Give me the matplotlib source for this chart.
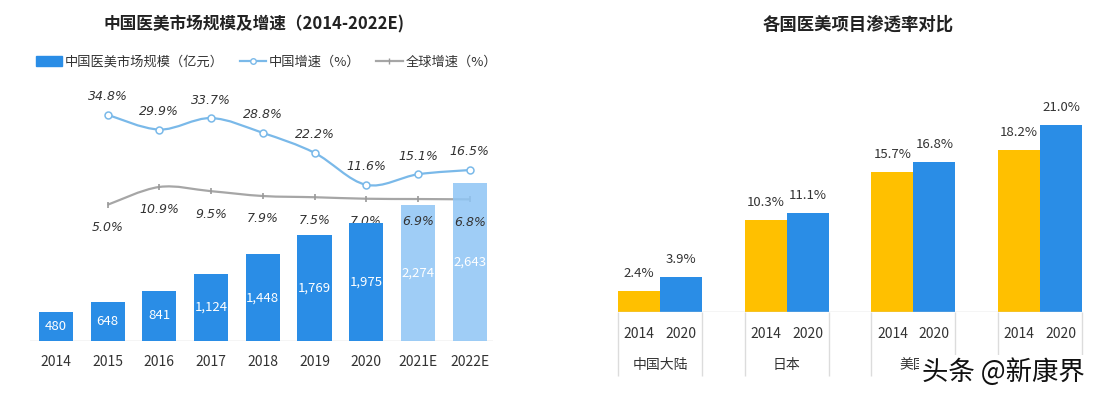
import numpy as np
import matplotlib
matplotlib.use('Agg')
from matplotlib import pyplot as plt
from matplotlib.path import Path
from matplotlib.patches import PathPatch, Patch
from matplotlib.lines import Line2D

plt.rcParams['font.family'] = ['Noto Sans CJK SC', 'DejaVu Sans']

# Left chart data
years = ['2014', '2015', '2016', '2017', '2018', '2019', '2020', '2021E', '2022E']
market_size = [480, 648, 841, 1124, 1448, 1769, 1975, 2274, 2643]
size_labels = ['480', '648', '841', '1,124', '1,448', '1,769', '1,975', '2,274', '2,643']
cn_growth = [34.8, 29.9, 33.7, 28.8, 22.2, 11.6, 15.1, 16.5]
global_growth = [5.0, 10.9, 9.5, 7.9, 7.5, 7.0, 6.9, 6.8]
n_actual = 7  # 2014-2020 are actual, the rest estimates

# Right chart data
countries = ['中国大陆', '日本', '美国', '韩国']
pen_2014 = [2.4, 10.3, 15.7, 18.2]
pen_2020 = [3.9, 11.1, 16.8, 21.0]
pen_years = ['2014', '2020']

BLUE = '#2a8de6'
LIGHT = '#8ec5f5'
LINE_BLUE = '#7ab9e9'
GRAY = '#a6a6a6'
YELLOW = '#ffc000'
TXT = '#333333'

W, H = 1108, 398
fig = plt.figure(figsize=(W / 100, H / 100), dpi=100)


def smooth_path(xs, ys, t=1.0):
    # catmull-rom through the points as cubic bezier segments
    pts = np.column_stack([xs, ys]).astype(float)
    verts = [pts[0]]
    codes = [Path.MOVETO]
    n = len(pts)
    for i in range(n - 1):
        p0 = pts[max(i - 1, 0)]
        p1 = pts[i]
        p2 = pts[i + 1]
        p3 = pts[min(i + 2, n - 1)]
        c1 = p1 + (p2 - p0) / 6 * t
        c2 = p2 - (p3 - p1) / 6 * t
        verts += [c1, c2, p2]
        codes += [Path.CURVE4] * 3
    return Path(verts, codes)


# ---------- left chart ----------
ax = fig.add_axes([30 / W, (H - 341) / H, 463 / W, 251 / H])
ax2 = ax.twinx()
x = np.arange(len(years))

# growth lines on the back axes
xl = np.arange(1, len(years))
ax.add_patch(PathPatch(smooth_path(xl, cn_growth), fill=False, ec=LINE_BLUE, lw=1.6))
ax.plot(xl, cn_growth, ls='none', marker='o', ms=5, mfc='white', mec=LINE_BLUE, mew=1.1)
ax.add_patch(PathPatch(smooth_path(xl, global_growth), fill=False, ec=GRAY, lw=1.6))
ax.plot(xl, global_growth, ls='none', marker='|', ms=5, color='#999999', mew=1.2)
ax.set_ylim(-40.1, 43.0)
ax.set_xlim(-0.5, 8.45)

# bars on the front axes; light (estimate) bars sit under the labels
for i, (xi, v, lab) in enumerate(zip(x, market_size, size_labels)):
    if i < n_actual:
        ax2.bar(xi, v, width=0.66, color=BLUE, zorder=3)
    else:
        ax2.bar(xi, v, width=0.66, color=LIGHT, alpha=0.85, zorder=1.5)
    ax2.text(xi, v / 2, lab, ha='center', va='center', color='white', fontsize=9.5, zorder=4)
ax2.axhline(0, color='#d0d0d0', lw=1, zorder=1)
ax2.set_ylim(0, 4197)
ax2.set_xlim(-0.5, 8.45)

for xi, v in zip(xl, cn_growth):
    ax2.annotate('{:.1f}%'.format(v), (xi, v), xycoords=ax.transData, xytext=(0, 13),
                 textcoords='offset points', ha='center', va='center', fontsize=9,
                 fontstyle='italic', family='DejaVu Sans', color=TXT, zorder=2)
for xi, v in zip(xl, global_growth):
    ax2.annotate('{:.1f}%'.format(v), (xi, v), xycoords=ax.transData, xytext=(0, -16.5),
                 textcoords='offset points', ha='center', va='center', fontsize=9,
                 fontstyle='italic', family='DejaVu Sans', color=TXT, zorder=2)

for a in (ax, ax2):
    for s in a.spines.values():
        s.set_visible(False)
    a.set_yticks([])
ax.set_xticks(x)
ax.set_xticklabels(years, fontsize=10, color=TXT)
ax.tick_params(axis='x', length=0, pad=10)
ax2.tick_params(axis='x', length=0)

fig.text(254 / W, 1 - 24 / H, '中国医美市场规模及增速（2014-2022E)', ha='center', va='center',
         fontsize=12, fontweight='bold', color='#222222')

handles = [Patch(color=BLUE),
           Line2D([], [], color=LINE_BLUE, lw=1.6, marker='o', ms=4, mfc='white', mec=LINE_BLUE),
           Line2D([], [], color=GRAY, lw=1.6, marker='|', ms=5, mec='#999999')]
fig.legend(handles, ['中国医美市场规模（亿元）', '中国增速（%）', '全球增速（%）'],
           loc='center left', bbox_to_anchor=(24 / W, 1 - 62 / H), ncol=3, frameon=False,
           fontsize=9.5, handlelength=2.0, handletextpad=0.2, columnspacing=1.2,
           labelcolor=TXT)

# ---------- right chart ----------
bw = 42 / 126.7
rx = np.arange(len(countries))
axr = fig.add_axes([600 / W, (H - 312) / H, 500 / W, 212 / H])
axr.bar(rx - bw / 2, pen_2014, width=bw, color=YELLOW)
axr.bar(rx + bw / 2, pen_2020, width=bw, color=BLUE)
for xi, v in zip(rx - bw / 2, pen_2014):
    axr.annotate('{:.1f}%'.format(v), (xi, v), xytext=(0, 12.5), textcoords='offset points',
                 ha='center', va='center', fontsize=9.5, color=TXT)
for xi, v in zip(rx + bw / 2, pen_2020):
    axr.annotate('{:.1f}%'.format(v), (xi, v), xytext=(0, 12.5), textcoords='offset points',
                 ha='center', va='center', fontsize=9.5, color=TXT)
axr.hlines(0, rx[0] - bw, rx[-1] + bw, color='#d0d0d0', lw=1)
axr.set_xlim(-0.474, 3.473)
axr.set_ylim(0, 23.8)
for s in axr.spines.values():
    s.set_visible(False)
axr.set_yticks([])
tick_pos = np.sort(np.concatenate([rx - bw / 2, rx + bw / 2]))
axr.set_xticks(tick_pos)
axr.set_xticklabels(pen_years * len(countries), fontsize=10, color=TXT)
axr.tick_params(axis='x', length=0, pad=11)

tr = axr.get_xaxis_transform()
axr.vlines(np.concatenate([rx - bw, rx + bw]), -0.3, 0, transform=tr, color='#dcdcdc',
           lw=1, clip_on=False)
for xi, name in zip(rx, countries):
    axr.text(xi, -0.25, name, transform=tr, ha='center', va='center', fontsize=10, color=TXT)

fig.text(858 / W, 1 - 25 / H, '各国医美项目渗透率对比', ha='center', va='center',
         fontsize=12.5, fontweight='bold', color='#222222')

# watermark (covers part of the lower country labels, as in the source image)
fig.text(1003 / W, 1 - 372 / H, '头条 @新康界', ha='center', va='center', fontsize=19,
         color='#111111', bbox=dict(boxstyle='square,pad=0.1', fc='white', ec='none'))

fig.savefig('out.png', dpi=100, facecolor='white')
